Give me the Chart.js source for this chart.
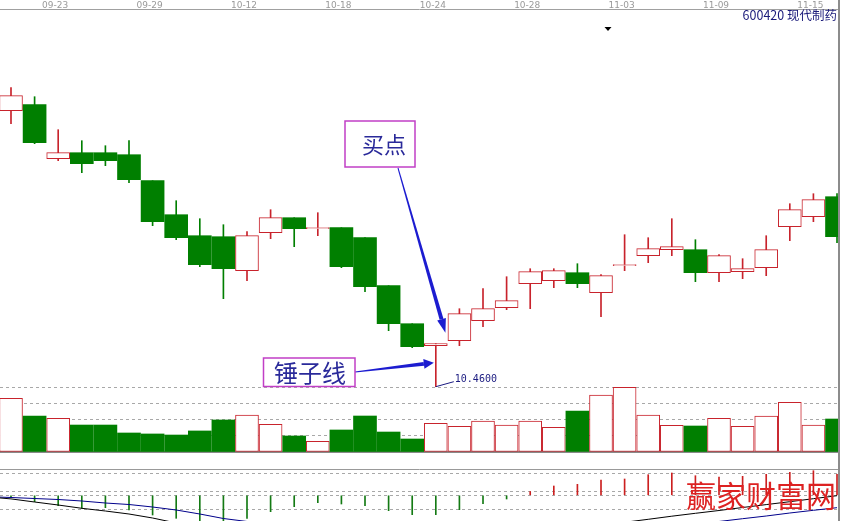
<!DOCTYPE html>
<html>
<head>
<meta charset="utf-8">
<script src="https://cdn.jsdelivr.net/npm/chart.js@4.4.0/dist/chart.umd.min.js"></script>
<style>
  html, body { margin: 0; padding: 0; background: #fff; }
  body { width: 841px; height: 521px; position: relative; overflow: hidden; }
  canvas { position: absolute; left: 0; }
  #kline { top: 0; z-index: 3; }
  #vol { top: 386px; z-index: 2; }
  #macd { top: 468px; z-index: 1; }
  #edge { position: absolute; left: 838px; top: 0; width: 2px; height: 521px; background: #8c8c8c; }
</style>
</head>
<body>
<canvas id="kline" width="838" height="395"></canvas>
<canvas id="vol" width="838" height="68"></canvas>
<canvas id="macd" width="838" height="53"></canvas>
<div id="edge"></div>
<script>
// 600420 现代制药 日K线 (09-21 ~ 11-16)
const tickIdx = [2, 6, 10, 14, 18, 22, 26, 30, 34];
const tickDates = ["09-23", "09-29", "10-12", "10-18", "10-24", "10-28", "11-03", "11-09", "11-15"];

const open  = [13.22, 13.28, 12.74, 12.80, 12.80, 12.78, 12.52, 12.18, 11.97, 11.96, 11.62, 12.00, 12.15, 12.04, 12.05, 11.95, 11.47, 11.09,
               10.87, 10.92, 11.12, 11.25, 11.49, 11.52, 11.60, 11.40, 11.67, 11.77, 11.83, 11.83, 11.60, 11.61, 11.65, 12.06, 12.16, 12.36];
const high  = [13.45, 13.36, 13.03, 12.92, 12.87, 12.92, 12.52, 12.32, 12.14, 12.08, 12.01, 12.23, 12.15, 12.20, 12.05, 11.95, 11.47, 11.09,
               10.89, 11.24, 11.44, 11.56, 11.64, 11.64, 11.69, 11.58, 11.98, 11.95, 12.14, 11.93, 11.78, 11.74, 11.97, 12.29, 12.39, 12.39];
const low   = [13.09, 12.89, 12.72, 12.60, 12.67, 12.50, 12.07, 11.93, 11.66, 11.34, 11.52, 11.94, 11.86, 11.97, 11.65, 11.41, 11.02, 10.85,
               10.46, 10.87, 11.06, 11.23, 11.24, 11.45, 11.45, 11.16, 11.62, 11.70, 11.77, 11.51, 11.51, 11.54, 11.57, 11.92, 12.11, 11.90];
const close = [13.37, 12.90, 12.80, 12.69, 12.72, 12.53, 12.11, 11.95, 11.68, 11.64, 11.97, 12.15, 12.04, 12.05, 11.66, 11.46, 11.09, 10.86,
               10.89, 11.19, 11.24, 11.32, 11.61, 11.62, 11.49, 11.57, 11.68, 11.84, 11.86, 11.60, 11.77, 11.64, 11.83, 12.23, 12.33, 11.96];
const volume = [6610, 4430, 4150, 3320, 3320, 2340, 2220, 2090, 2590, 3940, 4550, 3410, 1970, 1320, 2710, 4430, 2460, 1600,
                3530, 3160, 3820, 3320, 3820, 3040, 5050, 7020, 7950, 4550, 3290, 3200, 4150, 3160, 4430, 6120, 3320, 4060];
const macd = [-0.012, -0.032, -0.052, -0.065, -0.062, -0.0735, -0.0985, -0.115, -0.13, -0.127, -0.115, -0.082, -0.057, -0.037, -0.0435, -0.052, -0.077, -0.097,
              -0.097, -0.072, -0.042, -0.0185, 0.019, 0.0465, 0.055, 0.0765, 0.0815, 0.103, 0.1115, 0.098, 0.0915, 0.095, 0.105, 0.115, 0.123, 0.105];
// DIF / DEA: first value is the day before the first candle (line enters from the left edge)
const dif  = [-0.008, -0.018, -0.0335, -0.0485, -0.065, -0.0785, -0.0935, -0.1135, -0.1385, -0.1635, -0.18, -0.20, -0.21, -0.22, -0.22, -0.23, -0.24, -0.25, -0.26,
              -0.27, -0.26, -0.25, -0.24, -0.21, -0.19, -0.17, -0.15, -0.135, -0.12, -0.1045, -0.09, -0.076, -0.061, -0.0465, -0.032, -0.017, -0.002];
const dea  = [-0.007, -0.011, -0.016, -0.021, -0.0285, -0.0385, -0.046, -0.0585, -0.0735, -0.0935, -0.116, -0.131, -0.15, -0.165, -0.175, -0.185, -0.195, -0.205, -0.215,
              -0.225, -0.23, -0.23, -0.23, -0.23, -0.2235, -0.2135, -0.201, -0.1885, -0.1735, -0.1585, -0.145, -0.131, -0.117, -0.1035, -0.0885, -0.075, -0.062];
const macdGrid = [-0.0685, 0, 0.0215, 0.11];

const RED = "#c8232c";
const GREEN = "#007f00";
const X_MIN = -0.466, X_MAX = 35.042;

const idx = open.map((_, i) => i);
const up = i => close[i] >= open[i];

const base = {
    responsive: false,
    animation: false,
    devicePixelRatio: 1,
    events: [],
    plugins: { legend: { display: false }, tooltip: { enabled: false } }
};

function arrow(ctx, x0, y0, x1, y1, w0, w1, headLen, headW, color) {
    const len = Math.hypot(x1 - x0, y1 - y0);
    const ux = (x1 - x0) / len, uy = (y1 - y0) / len;
    const nx = -uy, ny = ux;
    const bx = x1 - ux * headLen, by = y1 - uy * headLen;
    ctx.fillStyle = color;
    ctx.beginPath();
    ctx.moveTo(x0 + nx * w0 / 2, y0 + ny * w0 / 2);
    ctx.lineTo(bx + nx * w1 / 2, by + ny * w1 / 2);
    ctx.lineTo(bx - nx * w1 / 2, by - ny * w1 / 2);
    ctx.lineTo(x0 - nx * w0 / 2, y0 - ny * w0 / 2);
    ctx.closePath();
    ctx.fill();
    ctx.beginPath();
    ctx.moveTo(x1, y1);
    ctx.lineTo(bx + nx * headW / 2, by + ny * headW / 2);
    ctx.lineTo(bx - nx * headW / 2, by - ny * headW / 2);
    ctx.closePath();
    ctx.fill();
}

function noteBox(ctx, x, y, w, h, text, size, tx) {
    ctx.fillStyle = "#fff";
    ctx.fillRect(x, y, w, h);
    ctx.strokeStyle = "#c13fc6";
    ctx.lineWidth = 1.5;
    ctx.strokeRect(x, y, w, h);
    ctx.fillStyle = "#2a2a9a";
    ctx.font = size + 'px "Noto Sans CJK SC"';
    ctx.textAlign = "left";
    ctx.textBaseline = "middle";
    ctx.fillText(text, tx, y + h / 2 + 1);
}

// 标注: 股票名称, 买点, 锤子线, 最低价
const klineNotes = {
    id: "klineNotes",
    afterDraw(chart) {
        const { ctx, scales: { x, y } } = chart;
        ctx.save();

        ctx.font = '12.5px "Noto Sans CJK SC"';
        ctx.fillStyle = "#1a1a7a";
        ctx.textAlign = "right";
        ctx.textBaseline = "middle";
        ctx.fillText("600420 现代制药", 837, 15);

        ctx.fillStyle = "#000";
        ctx.beginPath();
        ctx.moveTo(604.5, 27);
        ctx.lineTo(611.5, 27);
        ctx.lineTo(608, 31);
        ctx.closePath();
        ctx.fill();

        // 最低价
        const lo = low.indexOf(Math.min(...low));
        const lx = x.getPixelForValue(lo), ly = y.getPixelForValue(low[lo]);
        ctx.strokeStyle = "#1a1a80";
        ctx.lineWidth = 1;
        ctx.beginPath();
        ctx.moveTo(lx, ly);
        ctx.lineTo(lx + 18, ly - 5);
        ctx.stroke();
        ctx.fillStyle = "#1a1a80";
        ctx.font = '10px "DejaVu Sans Mono"';
        ctx.textAlign = "left";
        ctx.fillText(low[lo].toFixed(4), lx + 19, ly - 7);

        // 买点
        const bx = x.getPixelForValue(lo + 1) - 14, by = y.getPixelForValue(open[lo + 1]) - 8;
        arrow(ctx, 398, 168, bx, by, 1, 4, 14, 9, "#1c1cd0");
        noteBox(ctx, 345, 121, 70, 46, "买点", 22, 362);

        // 锤子线
        const hx = x.getPixelForValue(lo) - 2, hy = y.getPixelForValue(10.70);
        arrow(ctx, 355, 372, hx, hy, 1, 4, 10, 10, "#1c1cd0");
        noteBox(ctx, 263.5, 358, 91.5, 28.5, "锤子线", 24, 274);

        ctx.restore();
    }
};

new Chart(document.getElementById("kline"), {
    type: "bar",
    data: {
        datasets: [
            {
                label: "wick",
                data: idx.map(i => ({ x: i, y: [low[i], high[i]] })),
                backgroundColor: idx.map(i => up(i) ? RED : GREEN),
                barThickness: 1,
                grouped: false,
                order: 2
            },
            {
                label: "body",
                data: idx.map(i => ({ x: i, y: [open[i], close[i]] })),
                backgroundColor: idx.map(i => up(i) ? "#fff" : GREEN),
                borderColor: idx.map(i => up(i) ? RED : GREEN),
                borderWidth: idx.map(i => up(i) ? 1 : 0),
                borderSkipped: false,
                barThickness: 23,
                grouped: false,
                order: 1
            }
        ]
    },
    options: {
        ...base,
        layout: { padding: 0, autoPadding: false },
        scales: {
            x: {
                type: "linear", position: "top", min: X_MIN, max: X_MAX, offset: false,
                grid: { display: false, drawTicks: false },
                border: { display: true, color: "#a0a0a0", width: 1 },
                afterBuildTicks: s => { s.ticks = tickIdx.map(v => ({ value: v })); },
                afterFit: s => { s.height = 9; },
                ticks: {
                    callback: v => tickDates[tickIdx.indexOf(v)],
                    font: { family: "DejaVu Sans", size: 9, lineHeight: 1 },
                    color: "#9a9a9a", padding: -1, labelOffset: -3,
                    autoSkip: false, maxRotation: 0
                }
            },
            y: { display: false, min: 10.377, max: 14.237 }
        }
    },
    plugins: [klineNotes]
});

new Chart(document.getElementById("vol"), {
    type: "bar",
    data: {
        datasets: [{
            label: "成交量",
            data: idx.map(i => ({ x: i, y: volume[i] })),
            backgroundColor: idx.map(i => up(i) ? "#fff" : GREEN),
            borderColor: idx.map(i => up(i) ? RED : GREEN),
            borderWidth: idx.map(i => up(i) ? 1 : 0),
            borderSkipped: false,
            barThickness: 23
        }]
    },
    options: {
        ...base,
        layout: { padding: { top: 1, bottom: 2, left: 0, right: 0 }, autoPadding: false },
        scales: {
            x: {
                type: "linear", position: "bottom", min: X_MIN, max: X_MAX, offset: false,
                grid: { display: false, drawTicks: false },
                ticks: { display: false },
                border: { display: true, color: "#8a8a8a", width: 2 },
                afterFit: s => { s.height = 0; }
            },
            y: {
                min: 0, max: 8000,
                ticks: { display: false, stepSize: 2000 },
                grid: { color: "#a8a8a8", drawTicks: false },
                border: { display: false, dash: [3, 3] },
                afterFit: s => { s.width = 0; }
            }
        }
    }
});

const macdNotes = {
    id: "macdNotes",
    afterDraw(chart) {
        const { ctx } = chart;
        ctx.save();
        ctx.font = '30px "Noto Sans CJK SC"';
        ctx.fillStyle = "#dd2222";
        ctx.textAlign = "left";
        ctx.textBaseline = "middle";
        ctx.fillText("赢家财富网", 686, 28);
        ctx.restore();
    }
};

new Chart(document.getElementById("macd"), {
    type: "bar",
    data: {
        datasets: [
            {
                type: "line", label: "DIF",
                data: dif.map((v, k) => ({ x: k - 1, y: v })),
                borderColor: "#000", borderWidth: 1, pointRadius: 0, order: 1
            },
            {
                type: "line", label: "DEA",
                data: dea.map((v, k) => ({ x: k - 1, y: v })),
                borderColor: "#00008b", borderWidth: 1, pointRadius: 0, order: 1
            },
            {
                type: "bar", label: "MACD",
                data: idx.map(i => ({ x: i, y: macd[i] })),
                backgroundColor: macd.map(v => v >= 0 ? "#cc2020" : "#147a14"),
                barThickness: 1, order: 2
            }
        ]
    },
    options: {
        ...base,
        layout: { padding: 0, autoPadding: false },
        scales: {
            x: {
                type: "linear", position: "top", min: X_MIN, max: X_MAX, offset: false,
                grid: { display: false, drawTicks: false },
                ticks: { display: false },
                border: { display: true, color: "#999", width: 1 },
                afterFit: s => { s.height = 1; }
            },
            y: {
                min: -0.1285, max: 0.1315,
                afterBuildTicks: s => { s.ticks = macdGrid.map(v => ({ value: v })); },
                ticks: { display: false },
                grid: { color: "#a8a8a8", drawTicks: false },
                border: { display: false, dash: [3, 3] },
                afterFit: s => { s.width = 0; }
            }
        }
    },
    plugins: [macdNotes]
});
</script>
</body>
</html>
